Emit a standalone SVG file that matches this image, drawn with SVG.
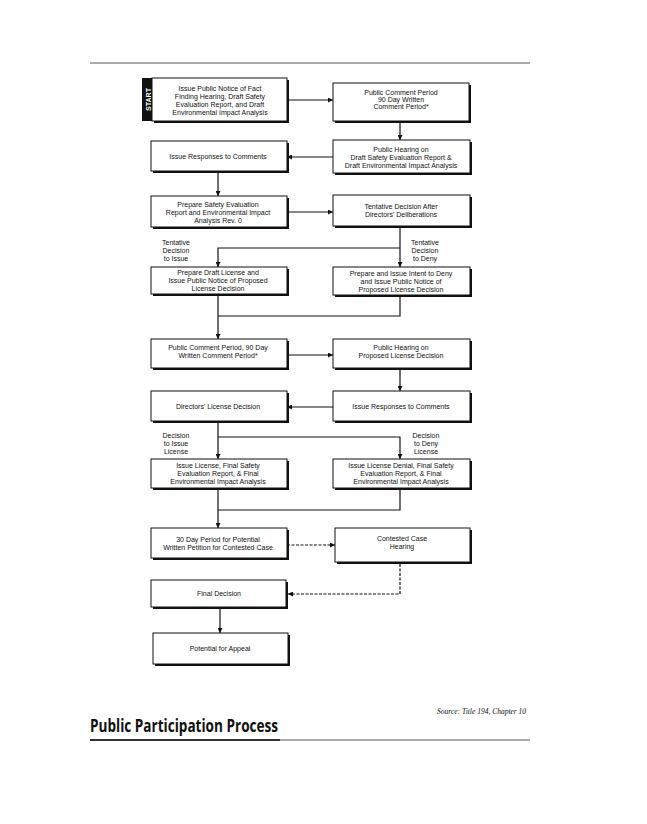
<svg xmlns="http://www.w3.org/2000/svg" width="647" height="824" viewBox="0 0 647 824">
<defs>
<style>
.bx{fill:#fff;stroke:#111;stroke-width:1}
.sh{fill:#111}
.t{font-family:"Liberation Sans",Arial,sans-serif;font-size:7px;fill:#111;text-anchor:middle}
.l{font-family:"Liberation Sans",Arial,sans-serif;font-size:7px;fill:#111;text-anchor:middle}
.c{fill:none;stroke:#111;stroke-width:1.2}
.d{fill:none;stroke:#111;stroke-width:1.2;stroke-dasharray:3 1.5}
</style>
<marker id="ah" viewBox="0 0 10 10" refX="10" refY="5" markerWidth="6" markerHeight="5" orient="auto" markerUnits="userSpaceOnUse">
<path d="M0,0 L10,5 L0,10 z" fill="#111"/>
</marker>
</defs>
<rect width="647" height="824" fill="#fff"/>
<g id="rules">
<line x1="90" y1="63" x2="530" y2="63" stroke="#555" stroke-width="1"/>
<line x1="90" y1="740" x2="280" y2="740" stroke="#333" stroke-width="2"/>
<line x1="280" y1="740" x2="530" y2="740" stroke="#555" stroke-width="1"/>
</g>
<g id="connectors">
<line class="c" x1="287" y1="100" x2="333" y2="100" marker-end="url(#ah)"/>
<line class="c" x1="400" y1="123" x2="400" y2="140" marker-end="url(#ah)"/>
<line class="c" x1="333" y1="157" x2="287" y2="157" marker-end="url(#ah)"/>
<line class="c" x1="218" y1="172" x2="218" y2="196" marker-end="url(#ah)"/>
<line class="c" x1="287" y1="212" x2="333" y2="212" marker-end="url(#ah)"/>
<line class="c" x1="400" y1="227" x2="400" y2="267" marker-end="url(#ah)"/>
<polyline class="c" points="400,248 218,248 218,267" marker-end="url(#ah)"/>
<line class="c" x1="218" y1="295" x2="218" y2="339" marker-end="url(#ah)"/>
<polyline class="c" points="400,297 400,316 218,316"/>
<line class="c" x1="287" y1="355" x2="333" y2="355" marker-end="url(#ah)"/>
<line class="c" x1="400" y1="370" x2="400" y2="391" marker-end="url(#ah)"/>
<line class="c" x1="333" y1="407" x2="287" y2="407" marker-end="url(#ah)"/>
<line class="c" x1="218" y1="423" x2="218" y2="459" marker-end="url(#ah)"/>
<polyline class="c" points="218,437 400,437 400,459" marker-end="url(#ah)"/>
<line class="c" x1="218" y1="490" x2="218" y2="528" marker-end="url(#ah)"/>
<polyline class="c" points="400,490 400,510 218,510"/>
<line class="d" x1="287" y1="545" x2="335" y2="545" marker-end="url(#ah)"/>
<polyline class="d" points="400,564 400,594 288,594" marker-end="url(#ah)"/>
<line class="c" x1="220" y1="608" x2="220" y2="633" marker-end="url(#ah)"/>
</g>
<g id="labels">
<text class="l" x="176" y="245">Tentative</text>
<text class="l" x="176" y="253">Decision</text>
<text class="l" x="176" y="261">to Issue</text>
<text class="l" x="425" y="245">Tentative</text>
<text class="l" x="425" y="253">Decision</text>
<text class="l" x="425" y="261">to Deny</text>
<text class="l" x="176" y="438">Decision</text>
<text class="l" x="176" y="446">to Issue</text>
<text class="l" x="176" y="454">License</text>
<text class="l" x="426" y="438">Decision</text>
<text class="l" x="426" y="446">to Deny</text>
<text class="l" x="426" y="454">License</text>
</g>
<g id="n1">
<rect x="142" y="78" width="12" height="43" fill="#111"/>
<text x="150.5" y="99.5" transform="rotate(-90 150.5 99.5)" font-family="Liberation Sans,Arial,sans-serif" font-size="7" font-weight="bold" fill="#fff" text-anchor="middle">START</text>
<rect class="sh" x="154" y="80" width="135" height="43"/>
<rect class="bx" x="152" y="78" width="135" height="43"/>
<text class="t" x="220" y="91">Issue Public Notice of Fact</text>
<text class="t" x="220" y="99">Finding Hearing, Draft Safety</text>
<text class="t" x="220" y="107">Evaluation Report, and Draft</text>
<text class="t" x="220" y="115">Environmental Impact Analysis</text>
</g>
<g id="n2">
<rect class="sh" x="335" y="85" width="136" height="38"/>
<rect class="bx" x="333" y="83" width="136" height="38"/>
<text class="t" x="401" y="95">Public Comment Period</text>
<text class="t" x="401" y="102">90 Day Written</text>
<text class="t" x="401" y="109">Comment Period*</text>
</g>
<g id="n3">
<rect class="sh" x="153" y="143" width="136" height="30"/>
<rect class="bx" x="151" y="141" width="136" height="30"/>
<text class="t" x="218" y="159">Issue Responses to Comments</text>
</g>
<g id="n4">
<rect class="sh" x="335" y="142" width="137" height="33"/>
<rect class="bx" x="333" y="140" width="137" height="33"/>
<text class="t" x="401" y="152">Public Hearing on</text>
<text class="t" x="401" y="160">Draft Safety Evaluation Report &amp;</text>
<text class="t" x="401" y="168">Draft Environmental Impact Analysis</text>
</g>
<g id="n5">
<rect class="sh" x="153" y="198" width="136" height="31"/>
<rect class="bx" x="151" y="196" width="136" height="31"/>
<text class="t" x="218" y="207">Prepare Safety Evaluation</text>
<text class="t" x="218" y="215">Report and Environmental Impact</text>
<text class="t" x="218" y="223">Analysis Rev. 0</text>
</g>
<g id="n6">
<rect class="sh" x="335" y="197" width="137" height="31"/>
<rect class="bx" x="333" y="195" width="137" height="31"/>
<text class="t" x="401" y="209">Tentative Decision After</text>
<text class="t" x="401" y="217">Directors' Deliberations</text>
</g>
<g id="n7">
<rect class="sh" x="153" y="269" width="136" height="27"/>
<rect class="bx" x="151" y="267" width="136" height="27"/>
<text class="t" x="218" y="275">Prepare Draft License and</text>
<text class="t" x="218" y="283">Issue Public Notice of Proposed</text>
<text class="t" x="218" y="291">License Decision</text>
</g>
<g id="n8">
<rect class="sh" x="335" y="269" width="137" height="28"/>
<rect class="bx" x="333" y="267" width="137" height="28"/>
<text class="t" x="401" y="276">Prepare and Issue Intent to Deny</text>
<text class="t" x="401" y="284">and Issue Public Notice of</text>
<text class="t" x="401" y="292">Proposed License Decision</text>
</g>
<g id="n9">
<rect class="sh" x="153" y="341" width="136" height="29"/>
<rect class="bx" x="151" y="339" width="136" height="29"/>
<text class="t" x="218" y="350">Public Comment Period, 90 Day</text>
<text class="t" x="218" y="358">Written Comment Period*</text>
</g>
<g id="n10">
<rect class="sh" x="335" y="341" width="137" height="29"/>
<rect class="bx" x="333" y="339" width="137" height="29"/>
<text class="t" x="401" y="350">Public Hearing on</text>
<text class="t" x="401" y="358">Proposed License Decision</text>
</g>
<g id="n11">
<rect class="sh" x="153" y="393" width="136" height="30"/>
<rect class="bx" x="151" y="391" width="136" height="30"/>
<text class="t" x="218" y="409">Directors' License Decision</text>
</g>
<g id="n12">
<rect class="sh" x="335" y="393" width="137" height="30"/>
<rect class="bx" x="333" y="391" width="137" height="30"/>
<text class="t" x="401" y="409">Issue Responses to Comments</text>
</g>
<g id="n13">
<rect class="sh" x="153" y="461" width="136" height="29"/>
<rect class="bx" x="151" y="459" width="136" height="29"/>
<text class="t" x="218" y="468">Issue License, Final Safety</text>
<text class="t" x="218" y="476">Evaluation Report, &amp; Final</text>
<text class="t" x="218" y="484">Environmental Impact Analysis</text>
</g>
<g id="n14">
<rect class="sh" x="335" y="461" width="137" height="29"/>
<rect class="bx" x="333" y="459" width="137" height="29"/>
<text class="t" x="401" y="468">Issue License Denial, Final Safety</text>
<text class="t" x="401" y="476">Evaluation Report, &amp; Final</text>
<text class="t" x="401" y="484">Environmental Impact Analysis</text>
</g>
<g id="n15">
<rect class="sh" x="153" y="530" width="136" height="30"/>
<rect class="bx" x="151" y="528" width="136" height="30"/>
<text class="t" x="218" y="542">30 Day Period for Potential</text>
<text class="t" x="218" y="550">Written Petition for Contested Case</text>
</g>
<g id="n16">
<rect class="sh" x="337" y="530" width="135" height="34"/>
<rect class="bx" x="335" y="528" width="135" height="34"/>
<text class="t" x="402" y="541">Contested Case</text>
<text class="t" x="402" y="549">Hearing</text>
</g>
<g id="n17">
<rect class="sh" x="153" y="582" width="135" height="27"/>
<rect class="bx" x="151" y="580" width="135" height="27"/>
<text class="t" x="219" y="596">Final Decision</text>
</g>
<g id="n18">
<rect class="sh" x="155" y="635" width="135" height="31"/>
<rect class="bx" x="153" y="633" width="135" height="31"/>
<text class="t" x="220" y="651">Potential for Appeal</text>
</g>
<g id="footer">
<text x="437" y="714" font-family="Liberation Serif,Times New Roman,serif" font-style="italic" font-size="7.5" fill="#111">Source:  Title 194, Chapter 10</text>
<text x="90" y="732" font-family="Open Sans,Liberation Sans,sans-serif" font-weight="bold" font-size="17" fill="#111" textLength="188" lengthAdjust="spacingAndGlyphs">Public Participation Process</text>
</g>
</svg>
